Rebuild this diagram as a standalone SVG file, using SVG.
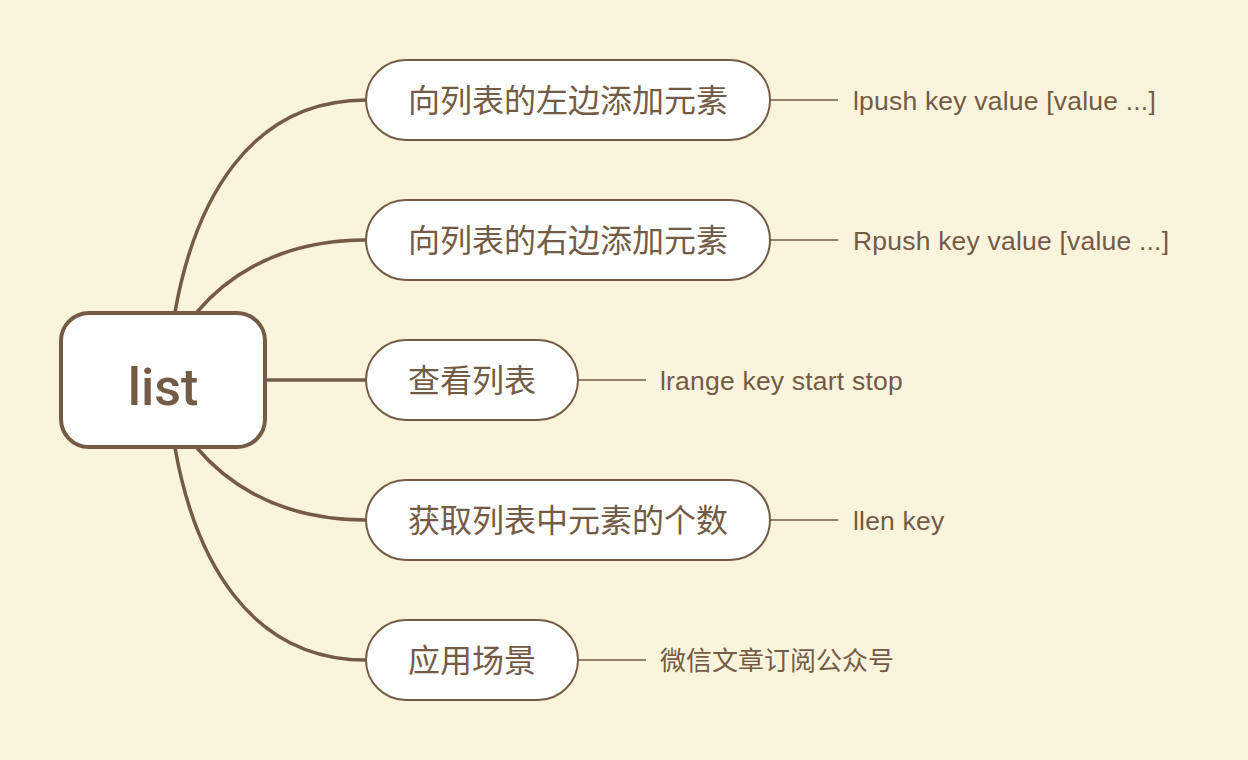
<svg xmlns="http://www.w3.org/2000/svg" width="1248" height="760" viewBox="0 0 1248 760">
<style>
.bg{fill:#fbf4dc}
.conn{fill:none;stroke:#735b45;stroke-width:3.5;stroke-linecap:round}
.leafline{fill:none;stroke:#735b45;stroke-width:1.6}
.pill{fill:#ffffff;stroke:#735b45;stroke-width:2}
.root{fill:#ffffff;stroke:#735b45;stroke-width:4}
.t{fill:#735b45;font-family:"Liberation Sans","Noto Sans CJK SC",sans-serif}
.pt{font-size:32px}
.lt{font-size:26.5px;letter-spacing:0.2px}
.lc{font-size:26px}
.rt{font-size:52px;text-anchor:middle;font-family:Roboto,"Liberation Sans",sans-serif;font-weight:500}
</style>
<rect class="bg" x="0" y="0" width="1248" height="760"/>
<g id="connectors">
<path class="conn" d="M175,312 C195,200 250,100 366,100"/>
<path class="conn" d="M197,312 C220,285 270,240 366,240"/>
<path class="conn" d="M266,380 L366,380"/>
<path class="conn" d="M197,448 C220,475 270,520 366,520"/>
<path class="conn" d="M175,448 C195,560 250,660 366,660"/>
<path class="leafline" d="M770,100 H838"/>
<path class="leafline" d="M770,240 H838"/>
<path class="leafline" d="M578,380 H646"/>
<path class="leafline" d="M770,520 H838"/>
<path class="leafline" d="M578,660 H646"/>
</g>
<g id="root">
<rect class="root" x="61" y="313" width="204" height="134" rx="28"/>
<text class="t rt" x="163" y="405">list</text>
</g>
<g id="n1">
<rect class="pill" x="366" y="60" width="404" height="80" rx="40"/>
<text class="t pt" x="408" y="112">向列表的左边添加元素</text>
</g>
<g id="n2">
<rect class="pill" x="366" y="200" width="404" height="80" rx="40"/>
<text class="t pt" x="408" y="252">向列表的右边添加元素</text>
</g>
<g id="n3">
<rect class="pill" x="366" y="340" width="212" height="80" rx="40"/>
<text class="t pt" x="408" y="392">查看列表</text>
</g>
<g id="n4">
<rect class="pill" x="366" y="480" width="404" height="80" rx="40"/>
<text class="t pt" x="408" y="532">获取列表中元素的个数</text>
</g>
<g id="n5">
<rect class="pill" x="366" y="620" width="212" height="80" rx="40"/>
<text class="t pt" x="408" y="672">应用场景</text>
</g>
<g id="l1"><text class="t lt" x="853" y="110">lpush key value [value ...]</text></g>
<g id="l2"><text class="t lt" x="853" y="250">Rpush key value [value ...]</text></g>
<g id="l3"><text class="t lt" x="660" y="390">lrange key start stop</text></g>
<g id="l4"><text class="t lt" x="853" y="530">llen key</text></g>
<g id="l5"><text class="t lc" x="660" y="670">微信文章订阅公众号</text></g>
</svg>
